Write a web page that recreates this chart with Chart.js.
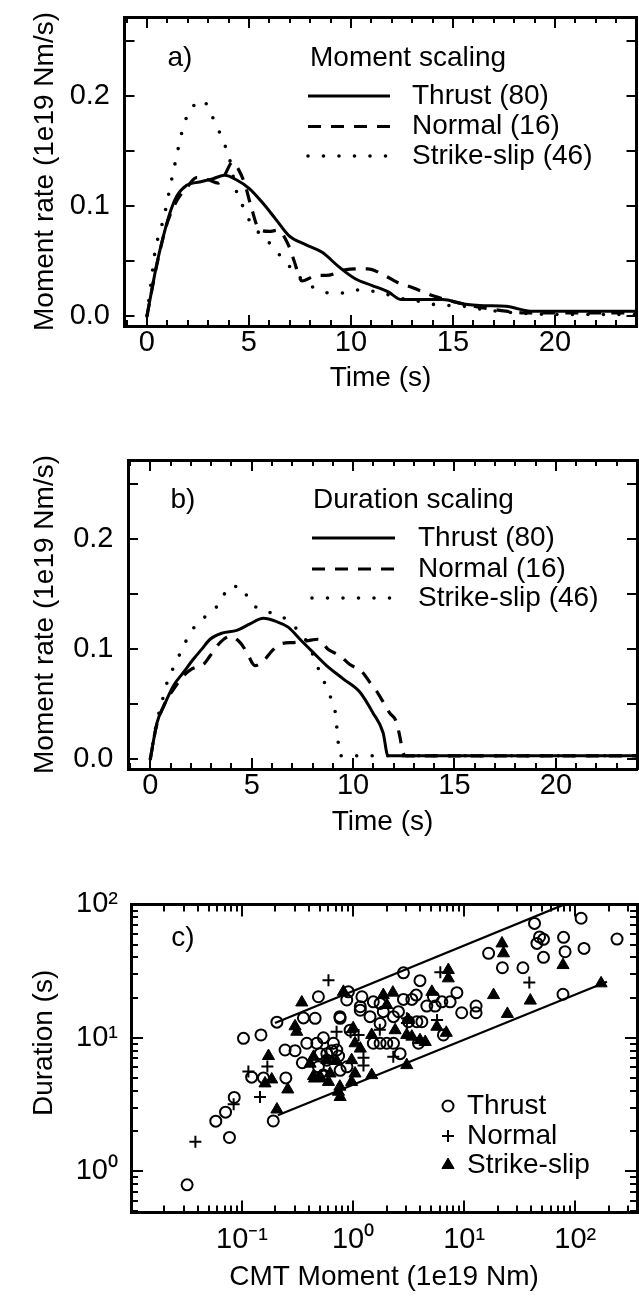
<!DOCTYPE html>
<html>
<head>
<meta charset="utf-8">
<script src="https://cdn.jsdelivr.net/npm/chart.js"></script>
<style>
  html, body { margin: 0; padding: 0; background: #fff; }
  body { width: 639px; height: 1296px; position: relative; overflow: hidden; }
  canvas { position: absolute; left: 0; }
</style>
</head>
<body>
<canvas id="panelA" width="639" height="410" style="top:0px"></canvas>
<canvas id="panelB" width="639" height="410" style="top:443px"></canvas>
<canvas id="panelC" width="639" height="446" style="top:850px"></canvas>
<script>
// ---- panel a: average moment rate functions, moment scaling  [time s, rate 1e19 Nm/s]
const thrustA = [[0,0],[0.24,0.024],[0.49,0.048],[0.81,0.073],[1.13,0.094],[1.46,0.109],[1.95,0.119],
  [2.59,0.122],[3.24,0.125],[3.81,0.128],[4.38,0.124],[5.02,0.116],[5.67,0.103],[6.32,0.088],[6.97,0.073],
  [7.78,0.065],[8.59,0.058],[9.4,0.045],[10.21,0.034],[11.02,0.028],[11.83,0.022],[12.48,0.015],[13.3,0.015],
  [14.5,0.015],[15.5,0.011],[16.5,0.0095],[17.6,0.009],[18.8,0.0045],[20.4,0.0045],[24,0.0045]];
const normalA = [[0,0],[0.5,0.048],[1,0.085],[1.5,0.106],[2,0.118],[2.43,0.126],[3,0.124],[3.5,0.121],
  [3.8,0.128],[4.2,0.14],[4.5,0.133],[4.8,0.12],[5.1,0.1],[5.5,0.079],[6,0.077],[6.4,0.078],[7,0.062],
  [7.2,0.051],[7.6,0.032],[8.35,0.037],[8.8,0.037],[9.7,0.042],[10.8,0.043],[11.75,0.036],[12.24,0.031],
  [13,0.026],[14.1,0.018],[15.3,0.012],[16.5,0.0075],[17.6,0.0045],[18.5,0.003],[24,0.003]];
const strikeA = [[0,0],[0.2,0.03],[0.4,0.059],[0.57,0.073],[0.81,0.088],[0.97,0.102],[1.13,0.117],
  [1.3,0.132],[1.46,0.146],[1.62,0.16],[1.83,0.175],[2.11,0.187],[2.75,0.196],[3.16,0.183],[3.49,0.17],
  [3.81,0.156],[4.05,0.143],[4.38,0.114],[4.7,0.1],[5.02,0.087],[5.43,0.077],[6.08,0.065],[6.57,0.054],
  [7.05,0.044],[7.62,0.033],[8.27,0.025],[9,0.021],[9.73,0.021],[10.46,0.024],[11.5,0.021],[12.5,0.016],
  [13.3,0.0135],[14.1,0.0105],[15.5,0.009],[16.5,0.006],[18,0.003],[20.4,0.0015],[24,0.0015]];

// ---- panel b: duration scaling
const thrustB = [[0,0],[0.33,0.033],[0.66,0.048],[1.15,0.067],[1.64,0.079],[2.13,0.091],[2.54,0.1],
  [2.95,0.109],[3.53,0.1145],[4.26,0.117],[4.92,0.123],[5.57,0.128],[6.23,0.125],[6.8,0.12],[7.38,0.109],
  [8.03,0.097],[8.69,0.085],[9.51,0.073],[10.33,0.061],[10.98,0.042],[11.48,0.024],[11.72,0.003],[24,0.003]];
const normalB = [[0,0],[0.3,0.03],[0.7,0.05],[1.2,0.065],[1.6,0.075],[2.05,0.082],[2.62,0.086],
  [2.95,0.094],[3.44,0.106],[3.93,0.1115],[4.43,0.106],[4.76,0.097],[5.16,0.085],[5.57,0.089],[5.98,0.098],
  [6.48,0.105],[7.05,0.106],[7.71,0.1075],[8.28,0.109],[8.76,0.1],[9.35,0.094],[9.84,0.086],[10.41,0.08],
  [10.82,0.07],[11.15,0.062],[11.48,0.052],[11.8,0.042],[12.13,0.034],[12.3,0.021],[12.46,0.006],
  [12.6,0.003],[24,0.003]];
const strikeB = [[0,0],[0.3,0.032],[0.66,0.058],[0.9,0.074],[1.23,0.086],[1.56,0.1],[1.93,0.113],
  [2.38,0.125],[3,0.133],[3.49,0.144],[3.9,0.157],[4.46,0.157],[4.89,0.144],[5.49,0.135],[6.26,0.132],
  [6.89,0.124],[7.79,0.1045],[8.2,0.086],[8.49,0.074],[8.82,0.059],[9.1,0.045],[9.18,0.032],[9.26,0.017],
  [9.31,0.003],[24,0.003]];

const seriesNames = ['Thrust (80)', 'Normal (16)', 'Strike-slip (46)'];

// ---- panel c: CMT moment (1e19 Nm) vs duration (s)
const thrustPts = [[0.032,0.79],[0.077,1.79],[0.058,2.37],[0.071,2.77],[0.085,3.57],[0.103,9.9],[0.148,10.5],
  [0.191,2.38],[0.206,13.1],[0.122,5.07],[0.156,5.0],[0.248,5.0],[0.244,8.1],[0.3,8.0],[0.349,6.5],
  [0.383,9.1],[0.471,9.1],[0.357,14.1],[0.455,14.0],[0.487,20.3],[0.54,10.0],[0.487,6.06],[0.533,5.16],
  [0.665,9.1],[0.764,14.0],[0.907,22.1],[0.877,19.2],[0.58,7.6],[0.713,8.1],[1.2,20.3],[0.94,11.4],
  [1.52,18.6],[1.75,18.1],[1.42,14.4],[1.87,15.7],[2.56,15.7],[1.16,16.1],[2.84,19.4],[3.38,19.4],
  [3.7,20.9],[2.84,30.7],[4.0,26.8],[5.29,20.3],[6.3,18.6],[7.48,18.6],[8.6,21.8],[4.61,17.3],[5.48,17.3],
  [9.5,15.4],[12.8,17.3],[12.8,15.4],[3.15,13.2],[3.75,13.2],[4.16,13.2],[6.5,10.5],[1.52,9.1],[1.75,9.1],
  [2.01,9.1],[2.31,9.1],[3.88,9.1],[2.65,7.6],[43,72],[47.7,57],[51.8,54.7],[45.2,51],[78.5,56.6],
  [113,78.7],[238,55],[120,46.8],[81,44.2],[51.8,40.1],[16.6,43],[22.1,33.5],[33.8,33.5],[77.6,21.2],
  [0.505,7.6],[0.643,8.0],[0.74,7.3],[0.58,6.8],[0.88,6.06],[0.54,5.25],[0.764,5.7],[1.75,12.8],
  [2.31,14.4],[0.76,14.4],[1.16,17.1]];
const normalPts = [[0.038,1.66],[0.084,3.18],[0.145,3.6],[0.114,5.6],[0.169,6.1],[0.6,27],[0.71,11.1],
  [0.95,11],[1.12,10.5],[1.24,6.2],[1.24,7.1],[2.3,7.2],[3.05,14],[3.05,12.9],[5.7,13.6],[6.1,31],
  [38.6,26],[1.74,11.5]];
const strikePts = [[0.173,7.3],[0.185,4.87],[0.161,4.55],[0.258,4.1],[0.206,2.9],[0.3,12.2],[0.311,11.1],
  [0.345,18.4],[0.44,5.16],[0.738,3.94],[0.764,3.6],[0.818,22.1],[1.0,11.8],[0.44,7.2],[0.97,6.8],
  [0.505,5.1],[0.62,5.4],[0.45,4.95],[0.58,6.8],[0.71,6.7],[1.04,5.4],[0.97,4.67],[0.76,4.3],[0.6,4.67],
  [0.41,6.4],[1.87,20.9],[2.28,21.8],[21.9,51],[22.6,43],[18.4,20.9],[5.12,22.1],[7.2,32.2],[7.2,27.9],
  [2.01,17.6],[3.15,13.6],[5.68,12.1],[2.39,11.4],[3.04,10.5],[1.47,10.5],[3.38,10.2],[4.0,9.6],
  [4.46,9.3],[1.04,9.1],[1.16,8.3],[77.6,35.1],[39.4,19],[24.5,15.1],[171,25.6],[3.04,6.24],
  [1.47,5.25],[6.9,10.9]];
const upperBand = [[0.198,12.9],[80,100]];
const lowerBand = [[0.21,2.63],[193,26.3]];
const scatterNames = ['Thrust', 'Normal', 'Strike-slip'];

// ---- ticks
const xMajorAB = [0, 5, 10, 15, 20];
const xMinorAB = [-1,0,1,2,3,4,5,6,7,8,9,10,11,12,13,14,15,16,17,18,19,20,21,22,23,24];
const yTicksAB = [0, 0.05, 0.1, 0.15, 0.2, 0.25];
const yLabelValues = [0, 0.1, 0.2];
const yLabelTexts = ['0.0', '0.1', '0.2'];
const xMajorC = [0.1, 1, 10, 100];
const xLabelsC = ['10\u207B\u00B9', '10\u2070', '10\u00B9', '10\u00B2'];
const yMajorC = [1, 10, 100];
const yLabelsC = ['10\u2070', '10\u00B9', '10\u00B2'];

const FONT_FAMILY = '"Liberation Sans", Arial, Helvetica, sans-serif';
const FS = 28;
const TICK_FONT = {family: FONT_FAMILY, size: 29};
Chart.defaults.font.family = FONT_FAMILY;
Chart.defaults.font.size = FS;
Chart.defaults.color = '#000';

function logMinor(min, max) {
  const out = [];
  for (let e = -2; e <= 2; e++) {
    for (let m = 1; m <= 9; m++) {
      const v = m * Math.pow(10, e);
      if (v >= min && v <= max) out.push(v);
    }
  }
  return out;
}

function pick(values, texts) {
  return v => {
    const i = values.indexOf(v);
    return i >= 0 ? texts[i] : '';
  };
}

// axis with inward tick marks and no grid lines
function makeAxis(c) {
  const horiz = c.pos === 'top' || c.pos === 'bottom';
  return {
    type: c.type || 'linear',
    position: c.pos,
    min: c.min, max: c.max,
    weight: c.weight || 0,
    afterBuildTicks: s => { s.ticks = c.ticks.map(v => ({value: v})); },
    grid: {display: true, drawOnChartArea: false, drawTicks: true, tickLength: -c.len,
           color: '#000', lineWidth: 2},
    border: {display: !!c.border, color: '#000', width: 3},
    ticks: {display: !!c.label, autoSkip: false, maxRotation: 0, minRotation: 0, font: TICK_FONT,
            padding: c.labelPad || 0, color: '#000', callback: c.label || (() => '')},
    title: c.title ? {display: true, text: c.title, color: '#000', padding: c.titlePad} : {display: false},
    afterFit: s => {
      if (horiz) s.height = c.size || 0; else s.width = c.size || 0;
      s.paddingLeft = s.paddingRight = s.paddingTop = s.paddingBottom = 0;
    }
  };
}

function curve(label, pts, style) {
  return Object.assign({
    label: label,
    data: pts.map(p => ({x: p[0], y: p[1]})),
    borderColor: '#000',
    pointRadius: 0,
    fill: false,
    cubicInterpolationMode: 'monotone'
  }, style);
}
const solid = {borderWidth: 3};
const dashed = {borderWidth: 3.2, borderDash: [13, 10]};
const dotted = {borderWidth: 3.6, borderDash: [0, 15.5], borderCapStyle: 'round'};

// panel letter and in-plot legend
const panelText = {
  id: 'panelText',
  afterDatasetsDraw(chart, args, o) {
    const ctx = chart.ctx;
    ctx.save();
    ctx.fillStyle = '#000';
    ctx.strokeStyle = '#000';
    ctx.font = FS + 'px ' + FONT_FAMILY;
    ctx.textBaseline = 'middle';
    ctx.textAlign = 'center';
    ctx.fillText(o.tag, o.tagAt[0], o.tagAt[1]);
    ctx.textAlign = 'left';
    if (o.heading) ctx.fillText(o.heading, o.headingAt[0], o.headingAt[1]);
    o.rows.forEach((dsIndex, r) => {
      const ds = chart.data.datasets[dsIndex];
      const y = o.rowY[r];
      ctx.save();
      if (o.kind === 'line') {
        ctx.lineWidth = ds.borderWidth;
        ctx.setLineDash(ds.borderDash || []);
        ctx.lineCap = ds.borderCapStyle || 'butt';
        ctx.beginPath();
        ctx.moveTo(o.sampleX[0], y);
        ctx.lineTo(o.sampleX[1], y);
        ctx.stroke();
      } else {
        ctx.lineWidth = ds.pointBorderWidth;
        ctx.fillStyle = ds.pointBackgroundColor;
        ctx.strokeStyle = ds.pointBorderColor;
        Chart.helpers.drawPoint(ctx, {pointStyle: ds.pointStyle, radius: ds.pointRadius,
          borderWidth: ds.pointBorderWidth, rotation: 0}, o.sampleX[0], y);
      }
      ctx.restore();
      ctx.fillText(ds.label, o.textX, y);
    });
    ctx.restore();
  }
};

function timePanel(id, sets, frame, txt) {
  const xr = {min: -1.1, max: 24};
  const yr = {min: -0.009, max: 0.272};
  new Chart(document.getElementById(id), {
    type: 'line',
    data: {datasets: [
      curve(seriesNames[0], sets[0], solid),
      curve(seriesNames[1], sets[1], dashed),
      curve(seriesNames[2], sets[2], dotted)
    ]},
    options: {
      responsive: false, animation: false, devicePixelRatio: 1,
      layout: {padding: {top: 17, right: frame.right, bottom: 0, left: 0}, autoPadding: false},
      plugins: {legend: {display: false}, tooltip: {enabled: false}, panelText: txt},
      scales: {
        x: makeAxis(Object.assign({pos: 'bottom', ticks: xMajorAB, len: 11, weight: 1, border: true,
          label: v => String(v), labelPad: 10.6, size: 84, title: 'Time (s)',
          titlePad: {top: 0, bottom: frame.titleBottom}}, xr)),
        xMinor: makeAxis(Object.assign({pos: 'bottom', ticks: xMinorAB, len: 6, weight: 0}, xr)),
        xTop: makeAxis(Object.assign({pos: 'top', ticks: xMajorAB, len: 11, weight: 1, border: true}, xr)),
        xTopMinor: makeAxis(Object.assign({pos: 'top', ticks: xMinorAB, len: 6, weight: 0}, xr)),
        y: makeAxis(Object.assign({pos: 'left', ticks: yTicksAB, len: 10, weight: 1, border: true,
          label: pick(yLabelValues, yLabelTexts), labelPad: 24.5, size: frame.left,
          title: 'Moment rate (1e19 Nm/s)', titlePad: {top: 28.2, bottom: 0}}, yr)),
        yRight: makeAxis(Object.assign({pos: 'right', ticks: yTicksAB, len: 10, weight: 0, border: true}, yr))
      }
    },
    plugins: [panelText]
  });
}

timePanel('panelA', [thrustA, normalA, strikeA], {left: 124.5, right: 2.5, titleBottom: 15.2},
  {tag: 'a)', tagAt: [180, 58], heading: 'Moment scaling', headingAt: [310, 58], kind: 'line',
   rows: [0, 1, 2], rowY: [96, 126.5, 156], sampleX: [308, 390], textX: 412});
timePanel('panelB', [thrustB, normalB, strikeB], {left: 128, right: 2, titleBottom: 14.2},
  {tag: 'b)', tagAt: [183, 57], heading: 'Duration scaling', headingAt: [313, 57], kind: 'line',
   rows: [0, 1, 2], rowY: [95, 126, 155], sampleX: [312, 395], textX: 418});

// panel c
const xrC = {type: 'logarithmic', min: 0.01, max: 360};
const yrC = {type: 'logarithmic', min: 0.49, max: 100};
function pts(list) { return list.map(p => ({x: p[0], y: p[1]})); }
new Chart(document.getElementById('panelC'), {
  type: 'scatter',
  data: {datasets: [
    {label: scatterNames[0], data: pts(thrustPts), pointStyle: 'circle', pointRadius: 5.5,
     pointBorderWidth: 2, borderWidth: 2, pointBorderColor: '#000', borderColor: '#000',
     pointBackgroundColor: 'rgba(0,0,0,0)', backgroundColor: 'rgba(0,0,0,0)'},
    {label: scatterNames[1], data: pts(normalPts), pointStyle: 'cross', pointRadius: 6,
     pointBorderWidth: 2, borderWidth: 2, pointBorderColor: '#000', borderColor: '#000',
     pointBackgroundColor: '#000', backgroundColor: '#000'},
    {label: scatterNames[2], data: pts(strikePts), pointStyle: 'triangle', pointRadius: 7,
     pointBorderWidth: 1, borderWidth: 1, pointBorderColor: '#000', borderColor: '#000',
     pointBackgroundColor: '#000', backgroundColor: '#000'},
    {label: 'upper', data: pts(upperBand), showLine: true, pointRadius: 0, borderWidth: 2.2,
     borderColor: '#000'},
    {label: 'lower', data: pts(lowerBand), showLine: true, pointRadius: 0, borderWidth: 2.2,
     borderColor: '#000'}
  ]},
  options: {
    responsive: false, animation: false, devicePixelRatio: 1,
    layout: {padding: {top: 54.4, right: 2, bottom: 0, left: 0}, autoPadding: false},
    plugins: {legend: {display: false}, tooltip: {enabled: false},
      panelText: {tag: 'c)', tagAt: [183, 88], heading: null, kind: 'point', rows: [0, 1, 2],
        rowY: [256, 286, 315], sampleX: [448], textX: 467}},
    scales: {
      x: makeAxis(Object.assign({pos: 'bottom', ticks: xMajorC, len: 12, weight: 1, border: true,
        label: pick(xMajorC, xLabelsC), labelPad: 22, size: 83.5, title: 'CMT Moment (1e19 Nm)',
        titlePad: {top: 0, bottom: 2.2}}, xrC)),
      xMinor: makeAxis(Object.assign({pos: 'bottom', ticks: logMinor(0.01, 360), len: 7, weight: 0}, xrC)),
      xTop: makeAxis(Object.assign({pos: 'top', ticks: xMajorC, len: 12, weight: 1, border: true}, xrC)),
      xTopMinor: makeAxis(Object.assign({pos: 'top', ticks: logMinor(0.01, 360), len: 7, weight: 0}, xrC)),
      y: makeAxis(Object.assign({pos: 'left', ticks: yMajorC, len: 12, weight: 1, border: true,
        label: pick(yMajorC, yLabelsC), labelPad: 25, size: 131, title: '\u00A0\u00A0\u00A0\u00A0Duration (s)',
        titlePad: {top: 27.2, bottom: 0}}, yrC)),
      yMinor: makeAxis(Object.assign({pos: 'left', ticks: logMinor(0.49, 100), len: 7, weight: 0}, yrC)),
      yRight: makeAxis(Object.assign({pos: 'right', ticks: yMajorC, len: 12, weight: 0, border: true}, yrC)),
      yRightMinor: makeAxis(Object.assign({pos: 'right', ticks: logMinor(0.49, 100), len: 7, weight: 1}, yrC))
    }
  },
  plugins: [panelText]
});
</script>
</body>
</html>
